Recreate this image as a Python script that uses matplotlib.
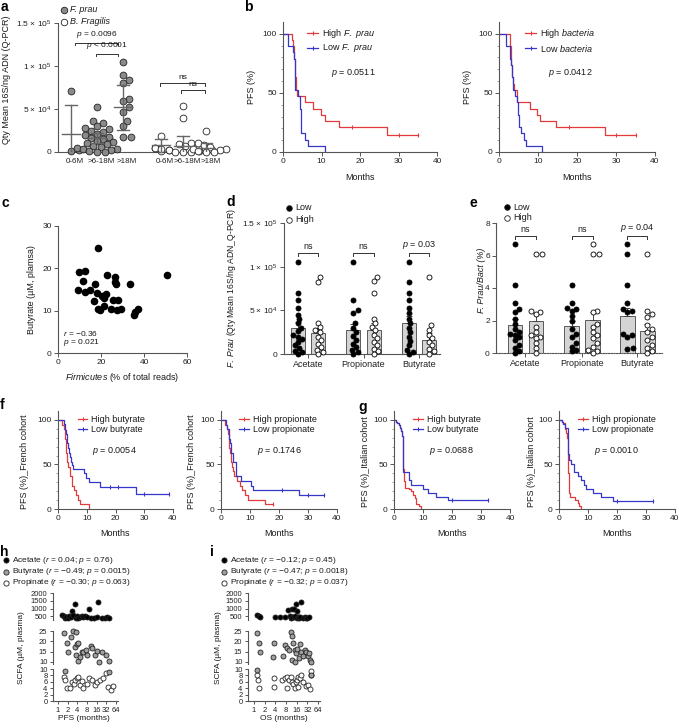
import numpy as np
import matplotlib
matplotlib.use("Agg")
import matplotlib.pyplot as plt
from matplotlib.ticker import NullLocator

plt.rcParams['font.family'] = ['Liberation Sans', 'DejaVu Sans']
plt.rcParams['mathtext.fontset'] = 'custom'
plt.rcParams['mathtext.rm'] = 'Liberation Sans'
plt.rcParams['mathtext.it'] = 'Liberation Sans:italic'
plt.rcParams['mathtext.bf'] = 'Liberation Sans:bold'

# ------------------------------------------------------------------ data
# panel a
a_labels = ['0-6M', '>6-18M', '>18M', '0-6M', '>6-18M', '>18M']
a_fprau_0_6 = [71000, 2000, 800]
a_fprau_6_18 = [52000, 36000, 34000, 30000, 28000, 27000, 25000, 23000, 21000, 20000, 18000, 16000, 15000,
                13000, 12000, 10000, 9000, 7000, 6000, 5000, 4000, 3000, 2000, 1000, 500, 0]
a_fprau_18 = [105000, 89000, 84000, 80000, 62000, 59000, 52000, 47000, 36000, 30000, 18000, 17000]
a_bfrag_0_6 = [19000, 5000, 2000, 1000]
a_bfrag_6_18 = [54000, 40000, 11000, 9000, 7000, 5000, 4000, 3000, 2500, 2000, 1000, 500, 0, 0]
a_bfrag_18 = [24000, 10000, 8000, 6000, 4000, 3000, 2000, 1000, 500, 0]
a_mean = [21000, 16000, 52000, 7700, 6500, 4500]
a_sd = [34000, 6000, 26000, 7500, 12500, 6000]

# panel b (Kaplan-Meier steps: time, survival %)
b_hi_fp_t = [0, 2.3, 2.6, 2.8, 2.9, 3.0, 3.1, 3.2, 3.3, 3.4, 3.6, 5.8, 7.8, 9.8, 10.8, 14.6, 27.0]
b_hi_fp_s = [100, 94.7, 89.5, 84.2, 78.9, 73.7, 68.4, 63.2, 57.9, 52.6, 47.4, 42.1, 36.8, 31.6, 26.3, 21.1, 14.8]
b_hi_fp_cens = [18, 30, 35]
b_lo_fp_t = [0, 1.3, 2.6, 2.8, 3.0, 3.1, 3.2, 3.9, 4.3, 4.5, 4.6, 4.8, 5.6, 6.5, 10.8]
b_lo_fp_s = [100, 89.5, 84.2, 78.9, 68.4, 63.2, 52.6, 47.4, 42.1, 36.8, 31.6, 15.8, 10.5, 5.3, 0]
b_hi_ba_t = [0, 2.8, 2.9, 3.0, 3.1, 3.2, 3.4, 3.6, 3.9, 4.6, 7.9, 9.8, 10.4, 14.7, 27.1]
b_hi_ba_s = [100, 94.7, 89.5, 84.2, 78.9, 73.7, 63.2, 57.9, 52.6, 42.1, 36.8, 31.6, 26.3, 21.1, 14.8]
b_hi_ba_cens = [18, 30, 35]
b_lo_ba_t = [0, 1.7, 2.7, 2.9, 3.1, 3.3, 3.5, 3.7, 4.0, 4.6, 4.8, 5.1, 5.7, 6.3, 7.0, 11.1]
b_lo_ba_s = [100, 89.5, 84.2, 78.9, 73.7, 63.2, 57.9, 52.6, 47.4, 42.1, 31.6, 21.1, 15.8, 10.5, 5.3, 0]

# panel c
c_firmicutes = [18.8, 9.9, 12.6, 11.6, 9.5, 12.7, 15.0, 17.4, 18.1, 20.3, 22.2, 21.6, 16.6, 22.8, 26.7,
                26.7, 27.2, 25.6, 28.1, 18.6, 21.2, 24.6, 27.4, 29.5, 33.3, 35.2, 36.0, 37.1, 50.7, 19.7]
c_butyrate = [24.7, 19.2, 19.4, 17.0, 14.8, 14.3, 14.8, 16.3, 14.1, 13.5, 13.9, 12.9, 12.3, 18.4, 18.0,
              16.8, 16.3, 12.5, 12.5, 10.5, 11.1, 10.5, 10.1, 10.4, 16.2, 9.0, 9.7, 10.5, 18.4, 10.1]

# panel d
scfa_names = ['Acetate', 'Propionate', 'Butyrate']
d_ace_low = [105000, 70000, 62000, 53000, 45000, 40000, 35000, 30000, 26000, 22000, 20000, 17000, 14000,
             10000, 7000, 4000, 2000, 0]
d_ace_high = [88000, 83000, 36000, 31000, 28000, 25000, 20000, 16000, 12000, 8000, 5000, 2000, 0]
d_pro_low = [105000, 62000, 50000, 47000, 35000, 30000, 25000, 21000, 16000, 12000, 8000, 5000, 2000, 0]
d_pro_high = [88000, 84000, 70000, 40000, 35000, 31000, 27000, 22000, 18000, 14000, 10000, 6000, 3000, 0]
d_but_low = [105000, 83000, 70000, 62000, 53000, 47000, 40000, 35000, 30000, 25000, 20000, 15000, 10000,
             5000, 2000, 0]
d_but_high = [88000, 33000, 28000, 22000, 18000, 14000, 10000, 6000, 3000, 0]
d_mean = [30000, 24000, 27000, 28000, 36000, 16500]
d_sem = [7000, 6000, 7000, 8000, 7500, 8000]

# panel e
e_ace_low = [6.7, 4.2, 3.1, 2.7, 2.5, 2.1, 1.8, 1.5, 1.3, 1.2, 1.1, 1.0, 0.8, 0.5, 0.3, 0.1, 0.0]
e_ace_high = [6.1, 6.1, 2.6, 2.5, 2.4, 1.6, 1.3, 1.1, 1.0, 0.9, 0.6, 0.3, 0.0]
e_pro_low = [4.2, 3.1, 2.8, 2.7, 2.6, 2.3, 2.0, 1.5, 1.2, 1.0, 0.6, 0.4, 0.2, 0.1]
e_pro_high = [6.7, 6.1, 6.1, 2.6, 2.5, 1.8, 1.6, 1.3, 1.1, 0.9, 0.6, 0.4, 0.2, 0.1, 0.0]
e_but_low = [6.7, 6.1, 4.2, 3.1, 2.7, 2.6, 2.5, 1.2, 1.1, 1.0, 0.3, 0.25]
e_but_high = [6.1, 2.6, 2.4, 2.2, 1.7, 1.5, 1.3, 1.0, 0.8, 0.5, 0.3, 0.1, 0.0]
e_mean = [1.7, 1.95, 1.65, 2.05, 2.3, 1.33]
e_sem = [0.4, 0.45, 0.3, 0.5, 0.5, 0.45]

# panel f (French cohort)
f_hi_but_t = [0, 1.4, 2.0, 2.3, 2.5, 2.7, 2.8, 2.9, 3.0, 3.2, 3.5, 4.0, 4.7, 5.0, 5.4, 6.3, 6.9, 7.6, 10.8]
f_hi_but_s = [100, 94.7, 89.5, 84.2, 78.9, 73.7, 68.4, 63.2, 57.9, 52.6, 47.4, 36.8, 31.6, 26.3, 21.1, 15.8,
              10.5, 5.3, 0]
f_lo_but_t = [0, 2.2, 2.6, 2.8, 3.0, 3.2, 3.4, 3.8, 4.2, 4.5, 4.8, 5.3, 8.9, 9.9, 10.7, 14.7, 27.2]
f_lo_but_s = [100, 95, 89, 84, 79, 74, 68, 63, 58, 53, 49, 45, 40, 35, 30, 25, 17]
f_lo_but_cens = [18, 21, 30, 38.5]
f_hi_pro_t = [0, 1.3, 2.0, 2.3, 2.6, 2.8, 3.0, 3.3, 3.5, 3.8, 4.2, 4.6, 5.5, 6.6, 7.4, 8.4, 9.2, 15.0]
f_hi_pro_s = [100, 94.7, 89.5, 84.2, 73.7, 68.4, 63.2, 57.9, 52.6, 47.4, 42.1, 36.8, 31.6, 26.3, 21.1, 15.8,
              10.5, 5.3]
f_hi_pro_cens = [18]
f_lo_pro_t = [0, 1.7, 2.2, 2.6, 2.9, 3.2, 3.6, 4.2, 5.3, 6.8, 10.3, 11.0, 27.0]
f_lo_pro_s = [100, 94.7, 89.5, 84.2, 78.9, 73.7, 63.2, 52.6, 36.8, 31.6, 26.3, 21.1, 15.8]
f_lo_pro_cens = [21, 30, 35.5]

# panel g (Italian cohort)
g_hi_but_t = [0, 0.6, 1.2, 1.7, 2.1, 2.4, 2.7, 2.9, 3.1, 3.2, 3.3, 3.5, 3.9, 5.1, 5.8, 6.6, 7.1, 7.7, 8.5, 9.2]
g_hi_but_s = [100, 98, 96, 94, 91, 88, 85, 82, 60, 45, 36, 31, 24, 22, 20, 16, 12, 6, 3, 0]
g_lo_but_t = [0, 0.6, 1.2, 1.7, 2.1, 2.4, 2.7, 2.9, 3.2, 5.1, 5.8, 10.0, 11.7, 14.6, 18.5]
g_lo_but_s = [100, 98, 96, 94, 91, 88, 85, 82, 41, 33, 27, 22.7, 18, 13.5, 9.6]
g_lo_but_cens = [20, 32.5]
g_hi_pro_t = [0, 1.0, 1.5, 2.0, 2.5, 2.8, 3.0, 3.2, 3.4, 3.6, 3.8, 5.5, 6.5, 7.0, 7.5]
g_hi_pro_s = [100, 98, 96, 90, 85, 80, 60, 40, 25, 18, 14, 10, 7, 3, 0]
g_lo_pro_t = [0, 1.0, 1.5, 2.2, 3.0, 3.2, 3.4, 4.3, 5.1, 6.4, 7.5, 8.5, 9.3, 11.6, 14.6, 18.5]
g_lo_pro_s = [100, 98, 95, 91, 80, 62, 55, 50, 42, 37, 32, 27, 22, 18, 13.5, 9.5]
g_lo_pro_cens = [20, 32.5]

# panel h (PFS) and i (OS)
h_ace_x = [1.3, 1.5, 1.6, 1.8, 2.0, 2.2, 2.5, 2.8, 3.0, 3.3, 3.6, 3.9, 4.3, 4.8, 5.5, 6.2, 7.0, 8.0, 9.5,
           11, 13, 16, 18, 24, 30, 33, 38]
h_ace_y = [600, 550, 420, 480, 400, 500, 450, 850, 600, 1300, 420, 500, 380, 450, 500, 480, 520, 450, 1000,
           430, 400, 450, 1400, 380, 420, 450, 400]
h_but_x = [1.5, 1.6, 1.9, 2.1, 2.6, 3.0, 3.4, 3.7, 3.7, 3.9, 4.2, 4.3, 4.9, 5.5, 6.2, 7.5, 8.2, 10.5, 11.2,
           14.3, 16, 18.5, 23, 31, 40, 38]
h_but_y = [24, 9.5, 19, 14.6, 22.2, 25, 17.3, 24.3, 13.3, 18.6, 19, 10.3, 12.4, 14.6, 14.9, 15.7, 13.3, 17.8,
           16.8, 13.3, 15.2, 10, 14.6, 13.3, 10.4, 9.0]
h_pro_x = [1.5, 1.7, 1.9, 2.4, 2.7, 3.05, 3.4, 3.9, 4.3, 4.9, 5.5, 6.2, 7.9, 9.5, 11.2, 14.3, 16, 20, 25.5,
           31, 37, 46, 52]
h_pro_y = [7.6, 6.6, 4.2, 4.0, 5.8, 5.2, 6.6, 7.1, 7.6, 5.0, 6.3, 4.0, 5.4, 7.1, 6.6, 5.0, 6.0, 6.6, 7.3,
           8.6, 4.5, 3.4, 4.8]
i_ace_x = [1.2, 1.4, 1.5, 4.0, 5.4, 7.5, 9.0, 10, 11, 11.4, 12, 13, 13.5, 14, 15, 16, 16.4, 17, 18, 19, 20,
           21.7, 24, 27, 30, 32, 35]
i_ace_y = [600, 500, 450, 480, 450, 450, 900, 500, 400, 950, 480, 950, 450, 500, 1300, 420, 850, 450, 480,
           380, 450, 1400, 420, 450, 400, 420, 450]
i_but_x = [1.2, 1.4, 1.5, 3.5, 3.6, 6.6, 7.4, 8.6, 9.8, 10.9, 11.4, 12, 12.7, 14, 14.5, 15.6, 16.6, 18.6,
           19.5, 21.7, 24, 27, 30, 33, 36, 37.5, 41, 1.25, 40]
i_but_y = [24, 19, 15, 12.4, 19, 13, 18, 17, 15.8, 24.7, 10.8, 22.5, 19, 15.8, 10.2, 14.3, 16.5, 12, 18.6,
           14.8, 13, 15.8, 14.8, 13, 14.3, 10.8, 10, 9.6, 8.2]
i_pro_x = [1.2, 1.3, 1.4, 3.6, 3.6, 6.3, 7.4, 8.6, 8.6, 9.8, 10.7, 11.7, 12.7, 14, 15, 16.4, 17.5, 17.5,
           19.5, 21.7, 24, 28.7, 33, 37, 39, 41]
i_pro_y = [8.2, 6.6, 4.2, 7.1, 4.5, 6.6, 7.1, 7.6, 4.0, 6.6, 7.6, 6.0, 5.2, 4.2, 5.8, 6.6, 4.5, 7.6, 7.1,
           8.2, 6.0, 4.8, 5.0, 3.8, 8.2, 9.4]

# ------------------------------------------------------------------ layout helpers
W, H = 679, 728
fig = plt.figure(figsize=(W / 100, H / 100), dpi=100)
RED = '#e23a3a'
BLUE = '#3636c8'
SP = '#555555'


def add_ax(l, t, r, b):
    return fig.add_axes([l / W, 1 - b / H, (r - l) / W, (b - t) / H])


def prism(ax, size=6):
    for s in ['top', 'right']:
        ax.spines[s].set_visible(False)
    for s in ['left', 'bottom']:
        ax.spines[s].set_color(SP)
        ax.spines[s].set_linewidth(0.8)
    ax.tick_params(direction='out', length=3, width=0.7, color=SP, labelsize=size, pad=1.5,
                   labelcolor='#222222')
    ax.patch.set_alpha(0)


ov = fig.add_axes([0, 0, 1, 1], zorder=10)
ov.set_xlim(0, W)
ov.set_ylim(H, 0)
ov.axis('off')


def T(x, y, s, size=6.5, ha='left', va='center', **kw):
    ov.text(x, y, s, fontsize=size, ha=ha, va=va, color='#1a1a1a', **kw)


def letter(x, y, s):
    ov.text(x, y, s, fontsize=10, fontweight='bold', ha='left', va='center', color='black')


def swarm_x(ax, xc, vals, diam):
    tr = ax.transData
    vals = np.asarray(vals, dtype=float)
    xp0 = tr.transform((xc, 0))[0]
    ys = tr.transform(np.column_stack([np.full(len(vals), xc), vals]))[:, 1]
    order = np.argsort(ys, kind='stable')
    step = diam * 0.3
    cands = [0.0]
    for k in range(1, 80):
        cands += [k * step, -k * step]
    placed = []
    offs = np.zeros(len(vals))
    for i in order:
        for off in cands:
            if all((off - px) ** 2 + (ys[i] - py) ** 2 >= (diam * 0.92) ** 2 for px, py in placed):
                break
        placed.append((off, ys[i]))
        offs[i] = off
    return tr.inverted().transform(np.column_stack([xp0 + offs, ys]))[:, 0]


def bracket(ax, x1, x2, y, h, text, ty, size=6.5):
    ax.plot([x1, x1, x2, x2], [y - h, y, y, y - h], color='#333333', lw=0.7, clip_on=False)
    ax.text((x1 + x2) / 2, ty, text, ha='center', va='bottom', fontsize=size, color='#1a1a1a')


def km(ax, t, s, color, end=None, cens=()):
    x = list(t)
    y = list(s)
    if end is not None:
        x.append(end)
        y.append(s[-1])
    ax.step(x, y, where='post', color=color, lw=0.9)
    if len(cens):
        ta = np.array(t)
        cy = [s[np.searchsorted(ta, c, side='right') - 1] for c in cens]
        ax.plot(cens, cy, ls='none', marker='|', ms=3, mew=0.8, color=color, clip_on=False)


def km_axes(l, t, r, b):
    ax = add_ax(l, t, r, b)
    prism(ax)
    ax.set_xlim(0, 40)
    ax.set_ylim(0, 110)
    ax.set_xticks([0, 10, 20, 30, 40])
    ax.set_yticks([0, 50, 100])
    ax.set_yticks(np.arange(10, 110, 10), minor=True)
    ax.tick_params(which='minor', length=1.6, width=0.5, color='#777777')
    return ax


def km_legend(x1, x2, y, color, label, size=6.5):
    ov.plot([x1, x2], [y, y], color=color, lw=0.9)
    ov.plot([(x1 + x2) / 2], [y], marker='|', ms=3, mew=0.8, color=color)
    T(x2 + 4, y, label, size=size)


def dot_legend(x, y, face, label, size=6.5, s=22, italic=False):
    ov.scatter([x], [y], s=s, facecolor=face, edgecolor='#222222', linewidths=0.6, clip_on=False)
    T(x + 6, y, label, size=size, style='italic' if italic else 'normal')


# ------------------------------------------------------------------ panel a
ax = add_ax(58, 23, 222, 152)
prism(ax)
ax.set_xlim(-0.5, 5.8)
ax.set_ylim(0, 1.5e5)
a_pos = [0, 1, 2, 3.45, 4.3, 5.2]
ax.set_yticks([0, 5e4, 1e5, 1.5e5])
ax.set_yticklabels(['0', r'5 × 10$^4$', r'1 × 10$^5$', r'1.5 × 10$^5$'])
ax.set_xticks([p + 0.15 for p in a_pos])
ax.set_xticklabels(a_labels, fontsize=5.8)
ax.tick_params(axis='x', length=0, pad=4)
a_sets = [a_fprau_0_6, a_fprau_6_18, a_fprau_18, a_bfrag_0_6, a_bfrag_6_18, a_bfrag_18]
for k, (p, vals) in enumerate(zip(a_pos, a_sets)):
    face = '#8a8a8a' if k < 3 else 'white'
    xs = swarm_x(ax, p, vals, 6.6)
    ax.scatter(xs, vals, s=24, facecolor=face, edgecolor='#222222', linewidths=0.6, zorder=3, clip_on=False)
    m, sd = a_mean[k], a_sd[k]
    ax.plot([p - 0.35, p + 0.35], [m, m], color='#666666', lw=1.0, zorder=4)
    ax.plot([p, p], [max(0, m - sd), m + sd], color='#666666', lw=1.0, zorder=4)
    ax.plot([p - 0.22, p + 0.22], [m + sd, m + sd], color='#666666', lw=1.0, zorder=4)
    if m - sd > 0:
        ax.plot([p - 0.22, p + 0.22], [m - sd, m - sd], color='#666666', lw=1.0, zorder=4)
bracket(ax, 0.15, 1.8, 127000, 3000, r'$\mathit{p}$ = 0.0096', 130500, size=6)
bracket(ax, 0.96, 1.8, 114500, 3000, r'$\mathit{p}$ < 0.0001', 118000, size=6)
bracket(ax, 3.42, 5.15, 80000, 3000, 'ns', 82500, size=6)
bracket(ax, 4.23, 5.15, 72000, 3000, 'ns', 74500, size=6)
T(7, 80, 'Qty Mean 16S/ng ADN (Q-PCR)', size=6.5, ha='center', rotation=90)
dot_legend(64, 10, '#8a8a8a', 'F. prau', italic=True)
dot_legend(64, 22, 'white', 'B. Fragilis', italic=True)
letter(1, 7, 'a')

# ------------------------------------------------------------------ panel b
ax = km_axes(283, 22, 437, 152)
km(ax, b_hi_fp_t, b_hi_fp_s, RED, end=35, cens=b_hi_fp_cens)
km(ax, b_lo_fp_t, b_lo_fp_s, BLUE)
ax2 = km_axes(499, 22, 655, 152)
km(ax2, b_hi_ba_t, b_hi_ba_s, RED, end=35, cens=b_hi_ba_cens)
km(ax2, b_lo_ba_t, b_lo_ba_s, BLUE)
T(252, 87, 'PFS (%)', ha='center', rotation=90)
T(468, 87, 'PFS (%)', ha='center', rotation=90)
T(360, 178, 'Months', ha='center')
T(577, 178, 'Months', ha='center')
km_legend(307, 318, 33, RED, r'High $\mathit{F.\ prau}$')
km_legend(307, 318, 48, BLUE, r'Low $\mathit{F.\ prau}$')
km_legend(525, 536, 33, RED, r'High $\mathit{bacteria}$')
km_legend(525, 536, 48, BLUE, r'Low $\mathit{bacteria}$')
T(331, 73, r'$\mathit{p}$ = 0.0511')
T(548, 73, r'$\mathit{p}$ = 0.0412')
letter(244, 7, 'b')

# ------------------------------------------------------------------ panel c
ax = add_ax(58, 226, 187, 353)
prism(ax)
ax.set_xlim(0, 60)
ax.set_ylim(0, 30)
ax.set_xticks([0, 20, 40, 60])
ax.set_yticks([0, 10, 20, 30])
ax.scatter(c_firmicutes, c_butyrate, s=20, color='black', zorder=3)
T(63, 333, r'$\mathit{r}$ = −0.36', size=6)
T(63, 343, r'$\mathit{p}$ = 0.021', size=6)
T(122, 378, r'$\mathit{Firmicutes}$ (% of total reads)', size=6.5, ha='center')
T(31, 290, 'Butyrate (µM, plamsa)', size=6.5, ha='center', rotation=90)
letter(1, 203, 'c')

# ------------------------------------------------------------------ panel d
ax = add_ax(284, 223, 440, 354)
prism(ax)
ax.set_xlim(-0.68, 6.93)
ax.set_ylim(0, 1.5e5)
d_pos = [0, 1, 2.7, 3.7, 5.4, 6.4]
ax.set_yticks([0, 5e4, 1e5, 1.5e5])
ax.set_yticklabels(['0', r'5 × 10$^4$', r'1 × 10$^5$', r'1.5 × 10$^5$'])
ax.set_xticks([0.5, 3.2, 5.9])
ax.set_xticklabels(scfa_names, fontsize=6.5)
ax.bar(d_pos, d_mean, width=0.68, color='#d4d4d4', edgecolor='#444444', lw=0.6, zorder=1)
ax.errorbar(d_pos, d_mean, yerr=[np.zeros(6), d_sem], fmt='none', ecolor='#444444', elinewidth=0.7,
            capsize=2, capthick=0.7, zorder=2)
d_sets = [d_ace_low, d_ace_high, d_pro_low, d_pro_high, d_but_low, d_but_high]
for k, (p, vals) in enumerate(zip(d_pos, d_sets)):
    xs = swarm_x(ax, p, vals, 5.0)
    ax.scatter(xs, vals, s=13, facecolor='black' if k % 2 == 0 else 'white', edgecolor='black',
               linewidths=0.6, zorder=3, clip_on=False)
bracket(ax, 0, 1, 116000, 3500, 'ns', 118000)
bracket(ax, 2.7, 3.7, 116000, 3500, 'ns', 118000)
bracket(ax, 5.4, 6.4, 116000, 3500, r'$\mathit{p}$ = 0.03', 118000)
T(231, 288, r'$\mathit{F.\ Prau}$ (Qty Mean 16S/ng ADN_Q-PCR)', size=6.2, ha='center', rotation=90)
dot_legend(289, 208, 'black', 'Low', s=16)
dot_legend(289, 220, 'white', 'High', s=16)
letter(226, 202, 'd')

# ------------------------------------------------------------------ panel e
ax = add_ax(496, 223, 662, 353)
prism(ax)
ax.set_xlim(-0.9, 7.0)
ax.set_ylim(0, 8)
e_pos = [0, 1, 2.7, 3.7, 5.35, 6.3]
ax.set_yticks([0, 2, 4, 6, 8])
ax.set_xticks([0.5, 3.2, 5.8])
ax.set_xticklabels(scfa_names, fontsize=6.5)
ax.spines['bottom'].set_linestyle((0, (1.2, 1.2)))
ax.bar(e_pos, e_mean, width=0.7, color='#d4d4d4', edgecolor='#444444', lw=0.6, zorder=1)
ax.errorbar(e_pos, e_mean, yerr=[np.zeros(6), e_sem], fmt='none', ecolor='#444444', elinewidth=0.7,
            capsize=2, capthick=0.7, zorder=2)
e_sets = [e_ace_low, e_ace_high, e_pro_low, e_pro_high, e_but_low, e_but_high]
for k, (p, vals) in enumerate(zip(e_pos, e_sets)):
    xs = swarm_x(ax, p, vals, 5.0)
    ax.scatter(xs, vals, s=13, facecolor='black' if k % 2 == 0 else 'white', edgecolor='black',
               linewidths=0.6, zorder=3, clip_on=False)
bracket(ax, 0, 1, 7.2, 0.2, 'ns', 7.3)
bracket(ax, 2.7, 3.7, 7.2, 0.2, 'ns', 7.3)
bracket(ax, 5.35, 6.3, 7.2, 0.2, r'$\mathit{p}$ = 0.04', 7.3)
T(481, 280, 'F. Prau/Bact (%)', size=6.5, ha='center', rotation=90, style='italic')
dot_legend(507, 207, 'black', 'Low', s=16)
dot_legend(507, 218, 'white', 'High', s=16)
letter(469, 203, 'e')

# ------------------------------------------------------------------ panel f
ax = km_axes(58, 411, 173, 509)
km(ax, f_hi_but_t, f_hi_but_s, RED)
km(ax, f_lo_but_t, f_lo_but_s, BLUE, end=38.5, cens=f_lo_but_cens)
ax2 = km_axes(221, 411, 337, 509)
km(ax2, f_hi_pro_t, f_hi_pro_s, RED, end=18, cens=f_hi_pro_cens)
km(ax2, f_lo_pro_t, f_lo_pro_s, BLUE, end=35.5, cens=f_lo_pro_cens)
T(25, 462, 'PFS (%)_French cohort', ha='center', rotation=90)
T(192, 462, 'PFS (%)_French cohort', ha='center', rotation=90)
T(115, 533, 'Months', ha='center')
T(279, 533, 'Months', ha='center')
km_legend(78, 87, 419, RED, 'High butyrate')
km_legend(78, 87, 429, BLUE, 'Low butyrate')
km_legend(239, 249, 419, RED, 'High propionate')
km_legend(239, 249, 429, BLUE, 'Low propionate')
T(92, 451, r'$\mathit{p}$ = 0.0054')
T(257, 451, r'$\mathit{p}$ = 0.1746')
letter(0, 405, 'f')

# ------------------------------------------------------------------ panel g
ax = km_axes(394, 411, 510, 509)
km(ax, g_hi_but_t, g_hi_but_s, RED)
km(ax, g_lo_but_t, g_lo_but_s, BLUE, end=32.5, cens=g_lo_but_cens)
ax2 = km_axes(559, 411, 675, 509)
km(ax2, g_hi_pro_t, g_hi_pro_s, RED)
km(ax2, g_lo_pro_t, g_lo_pro_s, BLUE, end=32.5, cens=g_lo_pro_cens)
T(365, 462, 'PFS (%)_Italian cohort', ha='center', rotation=90)
T(531, 462, 'PFS (%)_Italian cohort', ha='center', rotation=90)
T(452, 533, 'Months', ha='center')
T(617, 533, 'Months', ha='center')
km_legend(413, 423, 419, RED, 'High butyrate')
km_legend(413, 423, 429, BLUE, 'Low butyrate')
km_legend(578, 588, 419, RED, 'High propionate')
km_legend(578, 588, 429, BLUE, 'Low propionate')
T(429, 451, r'$\mathit{p}$ = 0.0688')
T(594, 451, r'$\mathit{p}$ = 0.0010')
letter(358, 407, 'g')


# ------------------------------------------------------------------ panels h, i
def scfa_panel(l, r, xlim, series):
    top = add_ax(l, 593, r, 620)
    mid = add_ax(l, 631, r, 664)
    bot = add_ax(l, 669, r, 701)
    for a in (top, mid, bot):
        prism(a, size=5.5)
        a.set_xscale('log', base=2)
        a.set_xlim(*xlim)
        a.xaxis.set_minor_locator(NullLocator())
        a.tick_params(axis='y', length=2.5)
    for a in (top, mid):
        a.spines['bottom'].set_visible(False)
        a.tick_params(axis='x', bottom=False, labelbottom=False)
    top.set_ylim(270, 2000)
    top.set_yticks([500, 1000, 1500, 2000])
    mid.set_ylim(9, 25)
    mid.set_yticks([10, 15, 20, 25])
    bot.set_ylim(0, 10)
    bot.set_yticks([0, 2, 4, 6, 8, 10])
    bot.set_xticks([1, 2, 4, 8, 16, 32, 64])
    bot.set_xticklabels(['1', '2', '4', '8', '16', '32', '64'])
    bot.tick_params(axis='x', length=2.5)
    for xs, ys, face in series:
        xs = np.asarray(xs, float)
        ys = np.asarray(ys, float)
        for a, mask in ((top, ys >= 100), (mid, (ys >= 10) & (ys < 100)), (bot, ys < 10)):
            if mask.any():
                a.scatter(xs[mask], ys[mask], s=13, facecolor=face, edgecolor='#222222',
                          linewidths=0.6, zorder=3, clip_on=False)


scfa_panel(53, 118, (0.70, 74), [(h_pro_x, h_pro_y, 'white'), (h_but_x, h_but_y, '#a0a0a0'),
                                 (h_ace_x, h_ace_y, 'black')])
scfa_panel(248, 320, (0.68, 72), [(i_pro_x, i_pro_y, 'white'), (i_but_x, i_but_y, '#a0a0a0'),
                                  (i_ace_x, i_ace_y, 'black')])
T(84, 719, 'PFS (months)', size=6, ha='center')
T(284, 719, 'OS (months)', size=6, ha='center')
T(22, 648, 'SCFA (µM, plasma)', size=6, ha='center', rotation=90)
T(218, 648, 'SCFA (µM, plasma)', size=6, ha='center', rotation=90)
for x0, rows in ((6, [('black', r'Acetate ($\mathit{r}$ = 0.04; $\mathit{p}$ = 0.76)'),
                      ('#a0a0a0', r'Butyrate ($\mathit{r}$ = −0.49; $\mathit{p}$ = 0.0015)'),
                      ('white', r'Propinate ($\mathit{r}$ = −0.30; $\mathit{p}$ = 0.063)')]),
                 (224, [('black', r'Acetate ($\mathit{r}$ = −0.12; $\mathit{p}$ = 0.45)'),
                        ('#a0a0a0', r'Butyrate ($\mathit{r}$ = −0.47; $\mathit{p}$ = 0.0018)'),
                        ('white', r'Propinate ($\mathit{r}$ = −0.32; $\mathit{p}$ = 0.037)')])):
    for j, (face, lab) in enumerate(rows):
        dot_legend(x0, 560 + 11.5 * j, face, lab, size=6, s=14)
letter(0, 552, 'h')
letter(210, 552, 'i')

fig.savefig('out.png', dpi=100)
